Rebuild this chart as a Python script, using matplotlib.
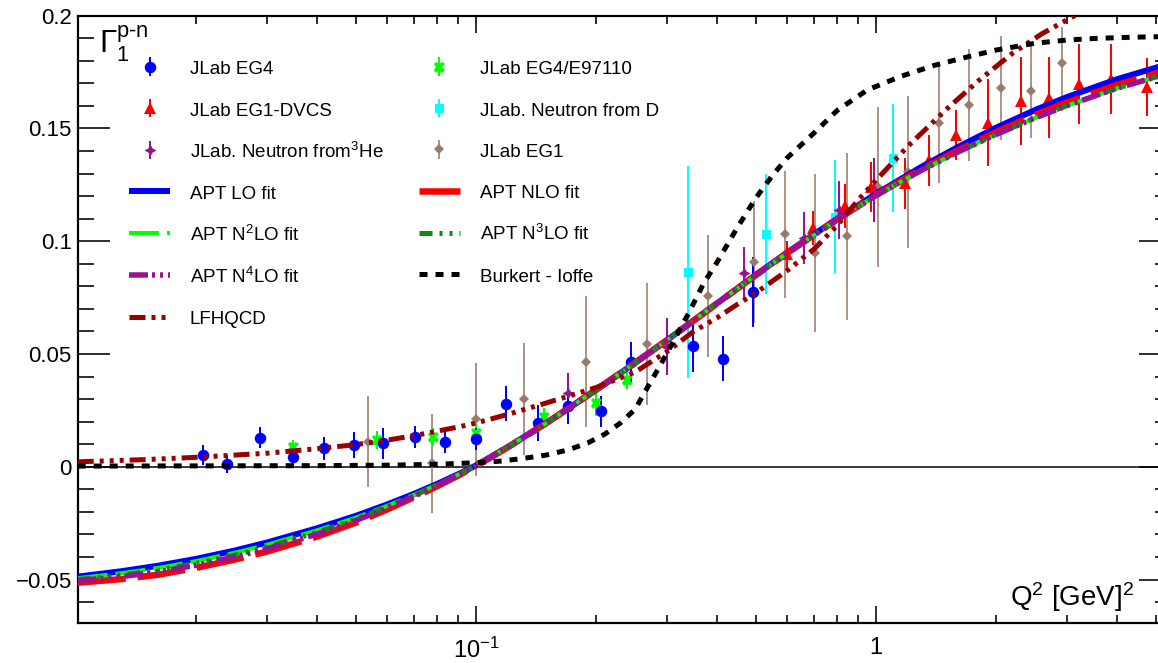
import matplotlib
matplotlib.use('Agg')
import matplotlib.pyplot as plt
from matplotlib.ticker import FixedLocator, FixedFormatter, NullFormatter

plt.rcParams['font.family'] = ['Liberation Sans', 'DejaVu Sans']
plt.rcParams['mathtext.fontset'] = 'custom'
plt.rcParams['mathtext.rm'] = 'Liberation Sans'
plt.rcParams['mathtext.it'] = 'Liberation Sans:italic'
plt.rcParams['mathtext.bf'] = 'Liberation Sans:bold'
plt.rcParams['lines.scale_dashes'] = False

PT = 0.72  # points per pixel at dpi 100

# ---- data points ----
x_eg4 = [0.0208, 0.0239, 0.0288, 0.0348, 0.0418, 0.0496, 0.0587, 0.0704, 0.0837, 0.100,
         0.119, 0.143, 0.170, 0.205, 0.244, 0.348, 0.415, 0.493]
y_eg4 = [0.0052, 0.0012, 0.0129, 0.0044, 0.0082, 0.0096, 0.0104, 0.0133, 0.0110, 0.0124,
         0.0280, 0.0195, 0.0268, 0.0246, 0.0466, 0.0534, 0.0480, 0.0774]
e_eg4 = [0.0044, 0.0040, 0.0047, 0.0045, 0.0050, 0.0057, 0.0070, 0.0050, 0.0050, 0.0050,
         0.0078, 0.0080, 0.0078, 0.0070, 0.0089, 0.0114, 0.0100, 0.0155]

x_dvcs = [0.600, 0.697, 0.837, 0.972, 1.18, 1.36, 1.585, 1.91, 2.31, 2.71, 3.22, 3.88, 4.75]
y_dvcs = [0.0943, 0.1057, 0.1157, 0.1240, 0.1258, 0.1358, 0.1470, 0.1526, 0.1622, 0.1637,
          0.1698, 0.1721, 0.1685]
e_dvcs = [0.0060, 0.0075, 0.0097, 0.0110, 0.0113, 0.0113, 0.0111, 0.0192, 0.0197, 0.0178,
          0.0176, 0.0155, 0.0128]

x_he3 = [0.1695, 0.300, 0.469, 0.661, 0.810, 0.990]
y_he3 = [0.0325, 0.0532, 0.0860, 0.1013, 0.1138, 0.1227]
e_he3 = [0.0090, 0.0126, 0.0113, 0.0115, 0.0130, 0.0140]

x_e97 = [0.0349, 0.0567, 0.0782, 0.100, 0.148, 0.200, 0.239]
y_e97 = [0.0089, 0.0118, 0.0133, 0.0148, 0.0222, 0.0281, 0.0384]
e_e97 = [0.0030, 0.0040, 0.0040, 0.0040, 0.0040, 0.0055, 0.0040]

x_d = [0.338, 0.530, 0.790, 1.10]
y_d = [0.0865, 0.1032, 0.1109, 0.1368]
e_d = [0.0470, 0.0265, 0.0250, 0.0240]

x_eg1 = [0.0538, 0.0775, 0.100, 0.132, 0.188, 0.267, 0.381, 0.496, 0.592, 0.706, 0.845,
         1.01, 1.20, 1.437, 1.711, 2.053, 2.44, 2.92]
y_eg1 = [0.0112, 0.0016, 0.0210, 0.0300, 0.0466, 0.0545, 0.0756, 0.0909, 0.1030, 0.0946,
         0.1023, 0.1240, 0.1308, 0.1523, 0.1604, 0.1678, 0.1666, 0.1790]
e_eg1 = [0.0200, 0.0220, 0.0250, 0.0250, 0.0290, 0.0270, 0.0270, 0.0270, 0.0280, 0.0350,
         0.0370, 0.0355, 0.0337, 0.0266, 0.0250, 0.0230, 0.0210, 0.0160]

# ---- curves ----
x_apt = [0.0101, 0.013, 0.016, 0.02, 0.025, 0.03, 0.04, 0.05, 0.06, 0.07, 0.08, 0.09, 0.1,
         0.12, 0.15, 0.2, 0.25, 0.3, 0.4, 0.5, 0.6, 0.8, 1.0, 1.3, 1.6, 2.0, 2.5, 3.0, 4.0, 5.5]
y_lo = [-0.0487, -0.0463, -0.0439, -0.0408, -0.0371, -0.0336, -0.0273, -0.0218, -0.0167,
        -0.0120, -0.0076, -0.0034, 0.0006, 0.0087, 0.0194, 0.0342, 0.0461, 0.0561, 0.0724,
        0.0850, 0.0950, 0.1100, 0.1210, 0.1330, 0.1417, 0.1504, 0.1582, 0.1639, 0.1718, 0.1791]
y_nlo = [-0.0514, -0.0498, -0.0479, -0.0448, -0.0411, -0.0376, -0.0310, -0.0248, -0.0189,
         -0.0135, -0.0086, -0.0040, 0.0003, 0.0086, 0.0194, 0.0342, 0.0461, 0.0561, 0.0723,
         0.0849, 0.0948, 0.1097, 0.1205, 0.1320, 0.1402, 0.1484, 0.1560, 0.1615, 0.1693, 0.1765]
y_n2lo = [-0.0494, -0.0472, -0.0449, -0.0418, -0.0381, -0.0346, -0.0282, -0.0226, -0.0173,
          -0.0124, -0.0079, -0.0036, 0.0005, 0.0087, 0.0194, 0.0342, 0.0461, 0.0561, 0.0724,
          0.0849, 0.0948, 0.1096, 0.1203, 0.1315, 0.1395, 0.1474, 0.1547, 0.1601, 0.1678, 0.1749]
y_n3lo = [-0.0500, -0.0480, -0.0459, -0.0428, -0.0391, -0.0356, -0.0291, -0.0233, -0.0178,
          -0.0128, -0.0081, -0.0037, 0.0005, 0.0087, 0.0194, 0.0342, 0.0461, 0.0561, 0.0724,
          0.0849, 0.0948, 0.1096, 0.1203, 0.1315, 0.1395, 0.1474, 0.1547, 0.1601, 0.1678, 0.1749]
y_n4lo = [-0.0505, -0.0487, -0.0467, -0.0436, -0.0399, -0.0364, -0.0299, -0.0239, -0.0182,
          -0.0131, -0.0083, -0.0038, 0.0004, 0.0087, 0.0194, 0.0342, 0.0461, 0.0561, 0.0724,
          0.0849, 0.0948, 0.1096, 0.1203, 0.1315, 0.1395, 0.1474, 0.1547, 0.1601, 0.1678, 0.1749]

x_lf = [0.0101, 0.015, 0.02, 0.03, 0.04, 0.05, 0.06, 0.07, 0.08, 0.09, 0.1, 0.12, 0.15, 0.2,
        0.25, 0.3, 0.35, 0.4, 0.45, 0.5, 0.6, 0.7, 0.8, 0.9, 1.0, 1.2, 1.5, 1.8, 2.2, 2.6,
        3.1, 3.4]
y_lf = [0.0022, 0.0032, 0.0042, 0.0060, 0.0080, 0.0098, 0.0118, 0.0138, 0.0158, 0.0176,
        0.0194, 0.0232, 0.0283, 0.0352, 0.0420, 0.0510, 0.0600, 0.0660, 0.0720, 0.0770,
        0.0870, 0.0965, 0.1070, 0.1180, 0.1270, 0.1420, 0.1585, 0.1710, 0.1835, 0.1920,
        0.1995, 0.2035]

x_bi = [0.0101, 0.02, 0.04, 0.06, 0.08, 0.1, 0.115, 0.13, 0.15, 0.17, 0.19, 0.21, 0.23, 0.25,
        0.27, 0.29, 0.31, 0.34, 0.37, 0.4, 0.45, 0.5, 0.55, 0.6, 0.7, 0.8, 0.95, 1.15, 1.4,
        1.7, 2.0, 2.5, 3.0, 3.6, 4.5, 5.5]
y_bi = [0.0003, 0.0004, 0.0005, 0.0007, 0.0011, 0.0018, 0.0025, 0.0036, 0.0052, 0.0075,
        0.0105, 0.0145, 0.0195, 0.0255, 0.0360, 0.0455, 0.0550, 0.0680, 0.0810, 0.0905,
        0.1060, 0.1190, 0.1290, 0.1370, 0.1480, 0.1580, 0.1670, 0.1730, 0.1780, 0.1818,
        0.1848, 0.1878, 0.1892, 0.1900, 0.1905, 0.1908]

fig = plt.figure(figsize=(11.58, 6.63), dpi=100)
W, H = 1158.0, 663.0
ax = fig.add_axes([77.7 / W, (H - 623.3) / H, (1171 - 77.7) / W, (623.3 - 15.7) / H])
ax.set_xscale('log')
ax.set_xlim(0.0101, 5.465)
ax.set_ylim(-0.0694, 0.2)

ax.axhline(0, color='black', lw=1.5 * PT, zorder=1)


def pts(*a):
    return tuple(v * PT for v in a)


def data(x, y, e, color, marker, ms, elw=2.0, cap=2.5, label=None):
    return ax.errorbar(x, y, yerr=e, fmt='', marker=marker, ls='none',
                       color=color, ms=ms * PT, mew=0, elinewidth=elw * PT,
                       capsize=cap * PT, capthick=elw * PT, label=label, zorder=2)


h_eg1 = data(x_eg1, y_eg1, e_eg1, '#9a7b6a', 'D', 7, elw=1.6, cap=2, label='JLab EG1')
h_d = data(x_d, y_d, e_d, '#00ffff', 's', 9, label='JLab. Neutron from D')
h_he3 = data(x_he3, y_he3, e_he3, '#99119b', (4, 1, 0), 12, label='JLab. Neutron from$^{3}$He')
h_e97 = data(x_e97, y_e97, e_e97, '#00ff00', 'X', 11, label='JLab EG4/E97110')
h_dvcs = data(x_dvcs, y_dvcs, e_dvcs, '#ff0000', '^', 12, label='JLab EG1-DVCS')
h_eg4 = data(x_eg4, y_eg4, e_eg4, '#0000ff', 'o', 11.5, label='JLab EG4')

l_lo, = ax.plot(x_apt, y_lo, color='#0000ff', lw=6 * PT, zorder=3, label='APT LO fit')
l_nlo, = ax.plot(x_apt, y_nlo, color='#ff0000', lw=6.5 * PT, zorder=3, dashes=pts(48, 12),
                 label='APT NLO fit')
l_n2lo, = ax.plot(x_apt, y_n2lo, color='#00ff00', lw=4 * PT, zorder=3, dashes=pts(30, 8),
                  label='APT N$^{2}$LO fit')
l_n3lo, = ax.plot(x_apt, y_n3lo, color='#0a8f0a', lw=5 * PT, zorder=3,
                  dashes=pts(13, 7, 3, 7, 3, 7, 3, 7), label='APT N$^{3}$LO fit')
l_n4lo, = ax.plot(x_apt, y_n4lo, color='#99119b', lw=5.5 * PT, zorder=3,
                  dashes=pts(19, 4, 3, 5, 3, 5, 3, 5), label='APT N$^{4}$LO fit')
l_lf, = ax.plot(x_lf, y_lf, color='#990000', lw=5 * PT, zorder=3,
                dashes=pts(16, 6, 4, 6, 4, 6, 4, 6), label='LFHQCD')
l_bi, = ax.plot(x_bi, y_bi, color='black', lw=5 * PT, zorder=3, dashes=pts(8, 8),
                label='Burkert - Ioffe')

for ln in (l_lo, l_nlo, l_n2lo, l_n3lo, l_n4lo, l_lf, l_bi):
    ln.set_dash_capstyle('butt')
    ln.set_solid_capstyle('butt')

# ---- axes / ticks ----
ax.xaxis.set_major_locator(FixedLocator([0.1, 1.0]))
ax.xaxis.set_major_formatter(FixedFormatter(['$10^{-1}$', '1']))
ax.xaxis.set_minor_locator(FixedLocator([0.02, 0.03, 0.04, 0.05, 0.06, 0.07, 0.08, 0.09,
                                         0.2, 0.3, 0.4, 0.5, 0.6, 0.7, 0.8, 0.9,
                                         2, 3, 4, 5]))
ax.xaxis.set_minor_formatter(NullFormatter())
yt = [-0.05, 0.0, 0.05, 0.1, 0.15, 0.2]
ax.yaxis.set_major_locator(FixedLocator(yt))
ax.yaxis.set_major_formatter(FixedFormatter(['\u22120.05', '0', '0.05', '0.1', '0.15', '0.2']))
ax.yaxis.set_minor_locator(FixedLocator([i / 100.0 for i in range(-6, 21)]))

ax.tick_params(which='both', direction='in', top=True, right=True, width=1.6 * PT,
               colors='black')
ax.tick_params(axis='x', which='major', length=17 * PT, pad=14 * PT, labelsize=17)
ax.tick_params(axis='x', which='minor', length=8 * PT)
ax.tick_params(axis='y', which='major', length=32 * PT, pad=6 * PT, labelsize=16)
ax.tick_params(axis='y', which='minor', length=16 * PT)
for s in ax.spines.values():
    s.set_linewidth(2.2 * PT)

# ---- titles ----
fig.text(99 / W, 1 - 53.3 / H, '$\\mathrm{\u0393}_{1}^{\\mathrm{p\u2010n}}$', fontsize=22.5,
         ha='left', va='baseline')
fig.text(1134 / W, 1 - 606 / H, 'Q$^{2}$ [GeV]$^{2}$', fontsize=20, ha='right',
         va='baseline')

# ---- legend ----
handles = [h_eg4, h_dvcs, h_he3, l_lo, l_n2lo, l_n4lo, l_lf,
           h_e97, h_d, h_eg1, l_nlo, l_n3lo, l_bi]
leg = ax.legend(handles=handles, labels=[h.get_label() for h in handles], ncol=2,
                loc='upper left', bbox_to_anchor=(129 / W, 1 - 59 / H),
                bbox_transform=fig.transFigure, frameon=False, fontsize=13.5,
                borderpad=0, borderaxespad=0, handlelength=2.2, handleheight=1.1,
                handletextpad=1.05, labelspacing=1.17, columnspacing=1.88)
leg.set_zorder(5)

fig.savefig('out.png', dpi=100)
